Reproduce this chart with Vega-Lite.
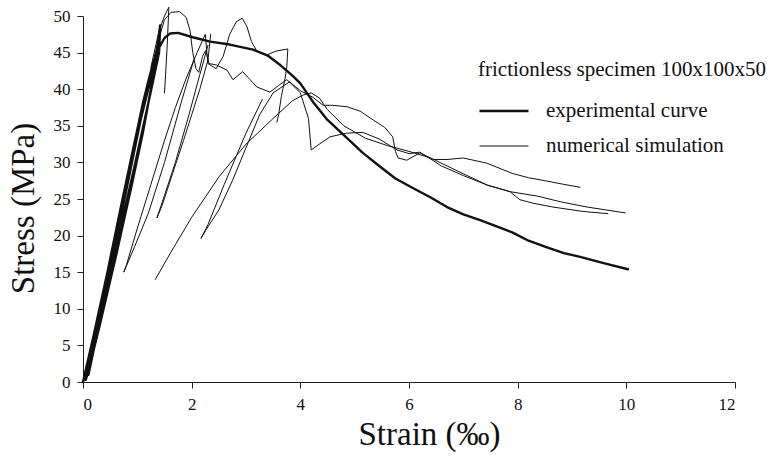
{
  "$schema": "https://vega.github.io/schema/vega-lite/v6.json",
  "autosize": "none",
  "width": 652,
  "height": 366,
  "padding": {"left": 83, "top": 16, "right": 41, "bottom": 76},
  "background": "white",
  "config": {
    "view": {"stroke": null},
    "font": "Liberation Serif",
    "axis": {"domainColor": "#222", "tickColor": "#222", "labelColor": "#111", "titleColor": "#111", "labelFont": "Liberation Serif", "titleFont": "Liberation Serif", "titleFontWeight": "normal", "grid": false}
  },
  "data": {"values": [
    {"s":"e","t":"experimental curve","x":0,"y":0},{"s":"e","t":"experimental curve","x":0.2,"y":6.5},{"s":"e","t":"experimental curve","x":0.45,"y":15},{"s":"e","t":"experimental curve","x":0.7,"y":24},{"s":"e","t":"experimental curve","x":0.87,"y":30},{"s":"e","t":"experimental curve","x":1.0,"y":34.5},{"s":"e","t":"experimental curve","x":1.1,"y":38},{"s":"e","t":"experimental curve","x":1.2,"y":41},{"s":"e","t":"experimental curve","x":1.3,"y":43.8},{"s":"e","t":"experimental curve","x":1.25,"y":40},{"s":"e","t":"experimental curve","x":1.1,"y":34},{"s":"e","t":"experimental curve","x":0.9,"y":27},{"s":"e","t":"experimental curve","x":0.6,"y":17},{"s":"e","t":"experimental curve","x":0.3,"y":7.5},{"s":"e","t":"experimental curve","x":0.1,"y":1.5},{"s":"e","t":"experimental curve","x":0.05,"y":0.3},{"s":"e","t":"experimental curve","x":0.25,"y":7.5},{"s":"e","t":"experimental curve","x":0.5,"y":16.5},{"s":"e","t":"experimental curve","x":0.8,"y":27.5},{"s":"e","t":"experimental curve","x":1.0,"y":34},{"s":"e","t":"experimental curve","x":1.2,"y":40},{"s":"e","t":"experimental curve","x":1.35,"y":44.5},{"s":"e","t":"experimental curve","x":1.42,"y":48.7},{"s":"e","t":"experimental curve","x":1.4,"y":45},{"s":"e","t":"experimental curve","x":1.2,"y":38},{"s":"e","t":"experimental curve","x":0.95,"y":29.5},{"s":"e","t":"experimental curve","x":0.6,"y":18},{"s":"e","t":"experimental curve","x":0.3,"y":8},{"s":"e","t":"experimental curve","x":0.1,"y":1},{"s":"e","t":"experimental curve","x":0.3,"y":8.5},{"s":"e","t":"experimental curve","x":0.6,"y":19},{"s":"e","t":"experimental curve","x":0.9,"y":30},{"s":"e","t":"experimental curve","x":1.15,"y":39},{"s":"e","t":"experimental curve","x":1.35,"y":45},{"s":"e","t":"experimental curve","x":1.5,"y":47},{"s":"e","t":"experimental curve","x":1.6,"y":47.6},{"s":"e","t":"experimental curve","x":1.75,"y":47.7},{"s":"e","t":"experimental curve","x":2.02,"y":47.1},{"s":"e","t":"experimental curve","x":2.34,"y":46.5},{"s":"e","t":"experimental curve","x":2.7,"y":46.1},{"s":"e","t":"experimental curve","x":3.13,"y":45.4},{"s":"e","t":"experimental curve","x":3.4,"y":44.6},{"s":"e","t":"experimental curve","x":3.63,"y":43.3},{"s":"e","t":"experimental curve","x":3.85,"y":41.9},{"s":"e","t":"experimental curve","x":4.0,"y":40.8},{"s":"e","t":"experimental curve","x":4.23,"y":38.3},{"s":"e","t":"experimental curve","x":4.5,"y":35.8},{"s":"e","t":"experimental curve","x":4.86,"y":33.3},{"s":"e","t":"experimental curve","x":5.15,"y":31.3},{"s":"e","t":"experimental curve","x":5.47,"y":29.4},{"s":"e","t":"experimental curve","x":5.75,"y":27.8},{"s":"e","t":"experimental curve","x":6.07,"y":26.5},{"s":"e","t":"experimental curve","x":6.4,"y":25.2},{"s":"e","t":"experimental curve","x":6.7,"y":23.9},{"s":"e","t":"experimental curve","x":7.0,"y":22.9},{"s":"e","t":"experimental curve","x":7.31,"y":22.1},{"s":"e","t":"experimental curve","x":7.6,"y":21.3},{"s":"e","t":"experimental curve","x":7.91,"y":20.4},{"s":"e","t":"experimental curve","x":8.2,"y":19.3},{"s":"e","t":"experimental curve","x":8.54,"y":18.4},{"s":"e","t":"experimental curve","x":8.85,"y":17.6},{"s":"e","t":"experimental curve","x":9.15,"y":17.1},{"s":"e","t":"experimental curve","x":9.6,"y":16.2},{"s":"e","t":"experimental curve","x":10.03,"y":15.4},

    {"s":"n1","t":"numerical simulation","x":0,"y":0},{"s":"n1","t":"numerical simulation","x":0.35,"y":10.5},{"s":"n1","t":"numerical simulation","x":0.7,"y":23},{"s":"n1","t":"numerical simulation","x":1.0,"y":34},{"s":"n1","t":"numerical simulation","x":1.2,"y":41},{"s":"n1","t":"numerical simulation","x":1.38,"y":46.5},{"s":"n1","t":"numerical simulation","x":1.5,"y":49.5},{"s":"n1","t":"numerical simulation","x":1.62,"y":50.5},{"s":"n1","t":"numerical simulation","x":1.78,"y":50.6},{"s":"n1","t":"numerical simulation","x":1.9,"y":49.8},{"s":"n1","t":"numerical simulation","x":1.97,"y":48},{"s":"n1","t":"numerical simulation","x":2.02,"y":45},{"s":"n1","t":"numerical simulation","x":2.08,"y":42.8},{"s":"n1","t":"numerical simulation","x":2.13,"y":42.3},{"s":"n1","t":"numerical simulation","x":2.2,"y":44.5},{"s":"n1","t":"numerical simulation","x":2.26,"y":45.3},{"s":"n1","t":"numerical simulation","x":2.32,"y":43.5},{"s":"n1","t":"numerical simulation","x":2.46,"y":43.3},{"s":"n1","t":"numerical simulation","x":2.65,"y":42.6},{"s":"n1","t":"numerical simulation","x":2.76,"y":41.3},{"s":"n1","t":"numerical simulation","x":2.94,"y":42.4},{"s":"n1","t":"numerical simulation","x":3.05,"y":41.5},{"s":"n1","t":"numerical simulation","x":3.2,"y":40.3},{"s":"n1","t":"numerical simulation","x":3.44,"y":39.6},{"s":"n1","t":"numerical simulation","x":3.6,"y":40.5},{"s":"n1","t":"numerical simulation","x":3.75,"y":41.3},{"s":"n1","t":"numerical simulation","x":4.0,"y":39.8},{"s":"n1","t":"numerical simulation","x":4.23,"y":38.9},{"s":"n1","t":"numerical simulation","x":4.42,"y":37.8},{"s":"n1","t":"numerical simulation","x":4.6,"y":37.8},{"s":"n1","t":"numerical simulation","x":4.86,"y":37.6},{"s":"n1","t":"numerical simulation","x":5.1,"y":37},{"s":"n1","t":"numerical simulation","x":5.34,"y":35.8},{"s":"n1","t":"numerical simulation","x":5.55,"y":34.8},{"s":"n1","t":"numerical simulation","x":5.7,"y":33.5},{"s":"n1","t":"numerical simulation","x":5.75,"y":31.5},{"s":"n1","t":"numerical simulation","x":5.8,"y":30.6},{"s":"n1","t":"numerical simulation","x":5.96,"y":30.3},{"s":"n1","t":"numerical simulation","x":6.2,"y":31.3},{"s":"n1","t":"numerical simulation","x":6.45,"y":30.4},{"s":"n1","t":"numerical simulation","x":6.7,"y":30.4},{"s":"n1","t":"numerical simulation","x":7.0,"y":30.6},{"s":"n1","t":"numerical simulation","x":7.43,"y":29.9},{"s":"n1","t":"numerical simulation","x":7.9,"y":28.5},{"s":"n1","t":"numerical simulation","x":8.2,"y":27.9},{"s":"n1","t":"numerical simulation","x":8.5,"y":27.5},{"s":"n1","t":"numerical simulation","x":8.85,"y":27.0},{"s":"n1","t":"numerical simulation","x":9.15,"y":26.6},

    {"s":"n2","t":"numerical simulation","x":2.04,"y":44},{"s":"n2","t":"numerical simulation","x":1.8,"y":38},{"s":"n2","t":"numerical simulation","x":1.5,"y":30},{"s":"n2","t":"numerical simulation","x":1.2,"y":23},{"s":"n2","t":"numerical simulation","x":0.95,"y":18.5},{"s":"n2","t":"numerical simulation","x":0.75,"y":15},{"s":"n2","t":"numerical simulation","x":0.8,"y":16},{"s":"n2","t":"numerical simulation","x":1.0,"y":21},{"s":"n2","t":"numerical simulation","x":1.25,"y":27},{"s":"n2","t":"numerical simulation","x":1.5,"y":33},{"s":"n2","t":"numerical simulation","x":1.7,"y":37.5},{"s":"n2","t":"numerical simulation","x":1.9,"y":41.5},{"s":"n2","t":"numerical simulation","x":2.1,"y":45},{"s":"n2","t":"numerical simulation","x":2.25,"y":47.5},{"s":"n2","t":"numerical simulation","x":2.28,"y":45},{"s":"n2","t":"numerical simulation","x":2.3,"y":43.5},{"s":"n2","t":"numerical simulation","x":2.45,"y":42.8},{"s":"n2","t":"numerical simulation","x":2.58,"y":44.5},{"s":"n2","t":"numerical simulation","x":2.7,"y":47.5},{"s":"n2","t":"numerical simulation","x":2.82,"y":49.2},{"s":"n2","t":"numerical simulation","x":2.93,"y":49.7},{"s":"n2","t":"numerical simulation","x":3.02,"y":48.5},{"s":"n2","t":"numerical simulation","x":3.1,"y":46.5},{"s":"n2","t":"numerical simulation","x":3.2,"y":45.2},{"s":"n2","t":"numerical simulation","x":3.39,"y":44.7},{"s":"n2","t":"numerical simulation","x":3.55,"y":45.2},{"s":"n2","t":"numerical simulation","x":3.77,"y":45.5},{"s":"n2","t":"numerical simulation","x":3.75,"y":43},{"s":"n2","t":"numerical simulation","x":3.72,"y":41.5},{"s":"n2","t":"numerical simulation","x":3.65,"y":39},{"s":"n2","t":"numerical simulation","x":3.6,"y":36.5},{"s":"n2","t":"numerical simulation","x":3.57,"y":35.5},

    {"s":"n3","t":"numerical simulation","x":3.3,"y":38.6},{"s":"n3","t":"numerical simulation","x":3.0,"y":34},{"s":"n3","t":"numerical simulation","x":2.6,"y":27},{"s":"n3","t":"numerical simulation","x":2.3,"y":21.5},{"s":"n3","t":"numerical simulation","x":2.17,"y":19.6},{"s":"n3","t":"numerical simulation","x":2.3,"y":21.2},{"s":"n3","t":"numerical simulation","x":2.5,"y":23.5},{"s":"n3","t":"numerical simulation","x":2.75,"y":27.5},{"s":"n3","t":"numerical simulation","x":3.0,"y":32},{"s":"n3","t":"numerical simulation","x":3.25,"y":36.5},{"s":"n3","t":"numerical simulation","x":3.5,"y":39.5},{"s":"n3","t":"numerical simulation","x":3.8,"y":41},{"s":"n3","t":"numerical simulation","x":4.0,"y":39.5},{"s":"n3","t":"numerical simulation","x":4.15,"y":36},{"s":"n3","t":"numerical simulation","x":4.2,"y":31.7},{"s":"n3","t":"numerical simulation","x":4.35,"y":32.5},{"s":"n3","t":"numerical simulation","x":4.55,"y":33.5},{"s":"n3","t":"numerical simulation","x":4.85,"y":34},{"s":"n3","t":"numerical simulation","x":5.15,"y":34.1},{"s":"n3","t":"numerical simulation","x":5.45,"y":33.2},{"s":"n3","t":"numerical simulation","x":5.78,"y":31.7},{"s":"n3","t":"numerical simulation","x":6.0,"y":31.2},{"s":"n3","t":"numerical simulation","x":6.2,"y":31.4},{"s":"n3","t":"numerical simulation","x":6.6,"y":29.5},{"s":"n3","t":"numerical simulation","x":7.0,"y":28.2},{"s":"n3","t":"numerical simulation","x":7.44,"y":26.9},{"s":"n3","t":"numerical simulation","x":7.86,"y":26.0},{"s":"n3","t":"numerical simulation","x":8.36,"y":25.4},{"s":"n3","t":"numerical simulation","x":8.8,"y":24.6},{"s":"n3","t":"numerical simulation","x":9.28,"y":23.9},{"s":"n3","t":"numerical simulation","x":9.98,"y":23.1},

    {"s":"n4","t":"numerical simulation","x":1.33,"y":14},{"s":"n4","t":"numerical simulation","x":1.6,"y":17.5},{"s":"n4","t":"numerical simulation","x":2.0,"y":22.5},{"s":"n4","t":"numerical simulation","x":2.5,"y":28},{"s":"n4","t":"numerical simulation","x":3.0,"y":32.5},{"s":"n4","t":"numerical simulation","x":3.5,"y":36},{"s":"n4","t":"numerical simulation","x":3.85,"y":38.4},{"s":"n4","t":"numerical simulation","x":4.05,"y":39.2},{"s":"n4","t":"numerical simulation","x":4.2,"y":39.5},{"s":"n4","t":"numerical simulation","x":4.35,"y":38.8},{"s":"n4","t":"numerical simulation","x":4.5,"y":37.2},{"s":"n4","t":"numerical simulation","x":4.8,"y":35},{"s":"n4","t":"numerical simulation","x":5.2,"y":33.3},{"s":"n4","t":"numerical simulation","x":5.6,"y":32.3},{"s":"n4","t":"numerical simulation","x":6.0,"y":31.5},{"s":"n4","t":"numerical simulation","x":6.4,"y":30.6},{"s":"n4","t":"numerical simulation","x":6.9,"y":28.8},{"s":"n4","t":"numerical simulation","x":7.44,"y":26.9},{"s":"n4","t":"numerical simulation","x":7.86,"y":26.0},{"s":"n4","t":"numerical simulation","x":8.04,"y":24.9},{"s":"n4","t":"numerical simulation","x":8.3,"y":24.4},{"s":"n4","t":"numerical simulation","x":8.65,"y":23.9},{"s":"n4","t":"numerical simulation","x":9.2,"y":23.3},{"s":"n4","t":"numerical simulation","x":9.66,"y":23.0},

    {"s":"n5","t":"numerical simulation","x":1.25,"y":43},{"s":"n5","t":"numerical simulation","x":1.4,"y":48},{"s":"n5","t":"numerical simulation","x":1.5,"y":50},{"s":"n5","t":"numerical simulation","x":1.58,"y":51.2},{"s":"n5","t":"numerical simulation","x":1.55,"y":46},{"s":"n5","t":"numerical simulation","x":1.52,"y":42},{"s":"n5","t":"numerical simulation","x":1.5,"y":39.5},

    {"s":"n6","t":"numerical simulation","x":2.3,"y":46},{"s":"n6","t":"numerical simulation","x":2.15,"y":42},{"s":"n6","t":"numerical simulation","x":1.95,"y":36.5},{"s":"n6","t":"numerical simulation","x":1.7,"y":30},{"s":"n6","t":"numerical simulation","x":1.5,"y":25.5},{"s":"n6","t":"numerical simulation","x":1.36,"y":22.4},{"s":"n6","t":"numerical simulation","x":1.45,"y":24},{"s":"n6","t":"numerical simulation","x":1.65,"y":28.5},{"s":"n6","t":"numerical simulation","x":1.85,"y":33},{"s":"n6","t":"numerical simulation","x":2.0,"y":36.5},{"s":"n6","t":"numerical simulation","x":2.15,"y":40},{"s":"n6","t":"numerical simulation","x":2.3,"y":44},{"s":"n6","t":"numerical simulation","x":2.35,"y":47.5}
  ]},
  "mark": {"type": "line", "color": "#111", "strokeJoin": "round", "strokeCap": "round", "clip": false},
  "encoding": {
    "x": {"field": "x", "type": "quantitative", "scale": {"domain": [0, 12], "nice": false},
      "axis": {"values": [0, 2, 4, 6, 8, 10, 12], "title": "Strain (‰)", "labelFont": "Liberation Serif", "titleFont": "Liberation Serif", "labelFontSize": 17, "titleFontSize": 33, "labelPadding": 8, "titlePadding": 6, "titleX": 346, "titleAnchor": "middle", "tickSize": 6}},
    "y": {"field": "y", "type": "quantitative", "scale": {"domain": [0, 50], "nice": false},
      "axis": {"values": [0, 5, 10, 15, 20, 25, 30, 35, 40, 45, 50], "title": "Stress (MPa)", "labelFont": "Liberation Serif", "titleFont": "Liberation Serif", "labelFontSize": 17, "titleFontSize": 33, "labelPadding": 7, "titlePadding": 13, "titleY": 192, "titleAnchor": "middle", "tickSize": 6}},
    "detail": {"field": "s"},
    "order": {"value": null},
    "strokeWidth": {"field": "t", "type": "nominal",
      "scale": {"domain": ["experimental curve", "numerical simulation"], "range": [2.4, 1]},
      "legend": {"title": "frictionless specimen 100x100x50", "orient": "none", "legendX": 395, "legendY": 43,
        "titleFont": "Liberation Serif", "titleFontSize": 21, "titleFontWeight": "normal", "titleColor": "#111", "titlePadding": 5, "titleLimit": 0,
        "labelFont": "Liberation Serif", "labelFontSize": 21, "labelColor": "#111", "labelOffset": 16, "labelLimit": 0,
        "symbolType": "stroke", "symbolSize": 2400, "symbolStrokeColor": "#111", "rowPadding": -12, "padding": 0}}
  }
}
